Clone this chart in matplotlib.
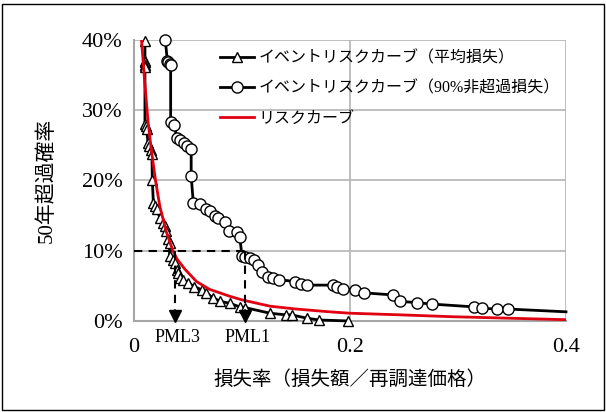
import matplotlib.pyplot as plt
from matplotlib.patches import Rectangle

plt.rcParams["font.family"] = ["Liberation Serif", "Noto Sans CJK JP"]

# event risk curve, mean loss (loss ratio, 50-year exceedance probability)
MEAN_X = [0.0102, 0.0102, 0.0102, 0.0102, 0.0102, 0.0102, 0.011, 0.0118,
          0.013, 0.014, 0.0155, 0.0167, 0.017, 0.018, 0.0194, 0.021, 0.024,
          0.027, 0.0287, 0.030, 0.032, 0.033, 0.033, 0.036, 0.038, 0.0395,
          0.041, 0.0426, 0.0456, 0.050, 0.056, 0.063, 0.067, 0.073, 0.080,
          0.089, 0.098, 0.103, 0.126, 0.141, 0.146, 0.160, 0.171, 0.198]
MEAN_Y = [0.398, 0.370, 0.368, 0.365, 0.362, 0.280, 0.277, 0.273,
          0.254, 0.249, 0.244, 0.237, 0.201, 0.168, 0.163, 0.159, 0.147,
          0.140, 0.135, 0.128, 0.116, 0.111, 0.092, 0.087, 0.082, 0.073,
          0.068, 0.061, 0.059, 0.054, 0.049, 0.044, 0.040, 0.033, 0.028,
          0.025, 0.020, 0.019, 0.011, 0.0086, 0.0086, 0.004, 0.0014, 0.0]

# event risk curve, 90% non-exceedance loss (last point is the unmarked tail)
P90_X = [0.029, 0.031, 0.032, 0.033, 0.034, 0.034, 0.037, 0.040, 0.043,
         0.046, 0.049, 0.053, 0.053, 0.055, 0.061, 0.067, 0.070, 0.075,
         0.078, 0.084, 0.088, 0.095, 0.098, 0.100, 0.103, 0.107, 0.111,
         0.115, 0.119, 0.124, 0.129, 0.134, 0.149, 0.155, 0.160, 0.184,
         0.188, 0.194, 0.205, 0.213, 0.240, 0.246, 0.262, 0.276, 0.315,
         0.322, 0.336, 0.346, 0.400]
P90_Y = [0.400, 0.370, 0.368, 0.366, 0.364, 0.283, 0.279, 0.261, 0.257,
         0.253, 0.249, 0.245, 0.206, 0.168, 0.167, 0.159, 0.156, 0.150,
         0.147, 0.141, 0.128, 0.127, 0.119, 0.093, 0.091, 0.089, 0.087,
         0.080, 0.069, 0.063, 0.061, 0.059, 0.056, 0.053, 0.051, 0.051,
         0.048, 0.046, 0.044, 0.040, 0.037, 0.028, 0.026, 0.024, 0.020,
         0.018, 0.017, 0.017, 0.013]

# risk curve
RISK_X = [0.007, 0.010, 0.013, 0.016, 0.020, 0.024, 0.030, 0.036, 0.040,
          0.047, 0.058, 0.070, 0.089, 0.100, 0.126, 0.150, 0.181, 0.200,
          0.250, 0.295, 0.350, 0.400]
RISK_Y = [0.400, 0.340, 0.285, 0.245, 0.200, 0.163, 0.127, 0.100, 0.088,
          0.074, 0.056, 0.045, 0.035, 0.030, 0.021, 0.017, 0.013, 0.011,
          0.0085, 0.006, 0.0038, 0.0018]

PML_LEVEL = 0.10
PML3 = 0.038
PML1 = 0.103

LABELS = ["イベントリスクカーブ（平均損失）",
          "イベントリスクカーブ（90%非超過損失）",
          "リスクカーブ"]

fig = plt.figure(figsize=(6.06, 4.12), dpi=100)
ax = fig.add_axes([0.221, 0.221, 0.713, 0.682])

l1, = ax.plot(MEAN_X, MEAN_Y, color="black", lw=2, marker="^", ms=6.5,
              mfc="white", mec="black", mew=1, clip_on=False, zorder=3)
l2, = ax.plot(P90_X, P90_Y, color="black", lw=2, marker="o", ms=8,
              mfc="white", mec="black", mew=1, clip_on=False, zorder=3,
              markevery=slice(0, len(P90_X) - 1))
l3, = ax.plot(RISK_X, RISK_Y, color="#e00010", lw=2, zorder=4)

# PML construction lines
ax.plot([0, PML1], [PML_LEVEL, PML_LEVEL], color="black", lw=1.5,
        dashes=(4, 3), zorder=5)
for pml, name in [(PML3, "PML3"), (PML1, "PML1")]:
    ax.plot([pml, pml], [PML_LEVEL, 0.01], color="black", lw=1.5,
            dashes=(4, 3), zorder=5)
    ax.plot(pml, 0.007, marker="v", ms=9, color="black", zorder=6,
            clip_on=False)
    ax.annotate(name, xy=(pml, 0), xytext=(2, -12), textcoords="offset points",
                ha="center", va="center", fontsize=13)

ax.set_xlim(0, 0.4)
ax.set_ylim(0, 0.4)
ax.set_xticks([0, 0.2, 0.4])
ax.set_xticklabels(["0", "0.2", "0.4"])
ax.set_yticks([0, 0.1, 0.2, 0.3, 0.4])
ax.set_yticklabels(["0%", "10%", "20%", "30%", "40%"])
ax.tick_params(axis="x", length=0, pad=12, labelsize=16)
ax.tick_params(axis="y", length=0, pad=8, labelsize=16)
ax.grid(color="#b4b4b4", lw=1.2)
ax.set_axisbelow(True)
for side in ["top", "right"]:
    ax.spines[side].set_visible(False)
for side in ["left", "bottom"]:
    ax.spines[side].set_color("#a6a6a6")
    ax.spines[side].set_linewidth(1.5)

ax.set_xlabel("損失率（損失額／再調達価格）", fontsize=14, labelpad=10)
ax.set_ylabel("50年超過確率", fontsize=15, labelpad=18)

fig.legend([l1, l2, l3], LABELS, loc="upper left",
           bbox_to_anchor=(0.363, 0.878), frameon=False, fontsize=11.5,
           handlelength=2.1, handletextpad=0.3, labelspacing=0.9,
           borderpad=0, borderaxespad=0)

fig.patches.append(Rectangle((0.004, 0.006), 0.992, 0.985,
                             transform=fig.transFigure, fill=False,
                             edgecolor="black", lw=1))

fig.savefig("out.png", dpi=100)
